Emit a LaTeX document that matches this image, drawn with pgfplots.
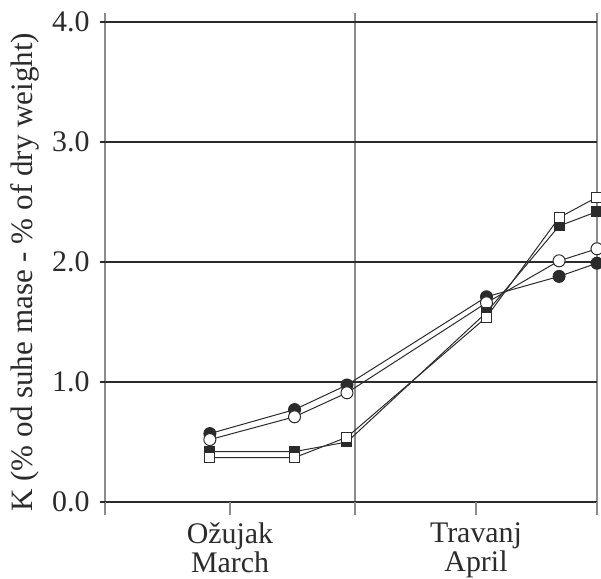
\documentclass[border=0pt]{standalone}
\usepackage{fontspec}
\setmainfont{Liberation Serif}
\usepackage{pgfplots}
\pgfplotsset{compat=1.18}
\definecolor{ink}{HTML}{2B2B2B}
\definecolor{vline}{HTML}{8C8C8C}
\begin{document}
\begin{tikzpicture}
\useasboundingbox (-52.5bp,-38.5bp) rectangle (248bp,251bp);
\begin{axis}[
  at={(0,0)}, anchor=south west,
  scale only axis, width=246bp, height=244.5bp,
  xmin=0, xmax=61, ymin=0, ymax=4.075,
  axis line style={draw=none},
  xtick={0,31,61}, xticklabels={},
  ytick={0,1,2,3,4},
  /pgf/number format/assume math mode=true,
  yticklabel style={/pgf/number format/fixed, /pgf/number format/fixed zerofill, /pgf/number format/precision=1},
  tick label style={font=\fontsize{15}{13}\selectfont, text=ink},
  xmajorgrids, ymajorgrids,
  x grid style={vline, line width=0.9bp},
  y grid style={ink, line width=0.8bp},
  tick align=outside, xtick pos=left, ytick pos=left,
  xtick style={vline, line width=0.9bp, /pgfplots/major tick length=6.5bp},
  ytick style={ink, line width=0.8bp, /pgfplots/major tick length=2.5bp},
  extra x ticks={15.5,46},
  extra x tick labels={{Ožujak\\March},{Travanj\\April}},
  extra x tick style={grid=none, /pgfplots/major tick length=0pt, xticklabel style={align=center, yshift=-7bp}},
  ylabel={K (\% od suhe mase - \% of dry weight)},
  ylabel style={font=\fontsize{15.6}{18}\selectfont, text=ink, at={(axis description cs:-0.1626,0.47)}, anchor=center},
]
\addplot[ink, line width=0.5bp, mark=*, mark size=3bp, mark options={fill=ink, draw=ink}] coordinates {(13,0.57) (23.5,0.77) (30,0.975) (47.3,1.71) (56.3,1.88) (61,1.99)};
\addplot[ink, line width=0.5bp, mark=*, mark size=3bp, mark options={fill=white, draw=ink}] coordinates {(13,0.52) (23.5,0.71) (30,0.91) (47.3,1.66) (56.3,2.01) (61,2.11)};
\addplot[ink, line width=0.5bp, mark=square*, mark size=2.5bp, mark options={fill=ink, draw=ink}] coordinates {(13,0.42) (23.5,0.42) (30,0.50) (47.3,1.58) (56.3,2.30) (61,2.42)};
\addplot[ink, line width=0.5bp, mark=square*, mark size=2.5bp, mark options={fill=white, draw=ink}] coordinates {(13,0.37) (23.5,0.37) (30,0.54) (47.3,1.54) (56.3,2.37) (61,2.54)};
\end{axis}
\end{tikzpicture}
\end{document}
